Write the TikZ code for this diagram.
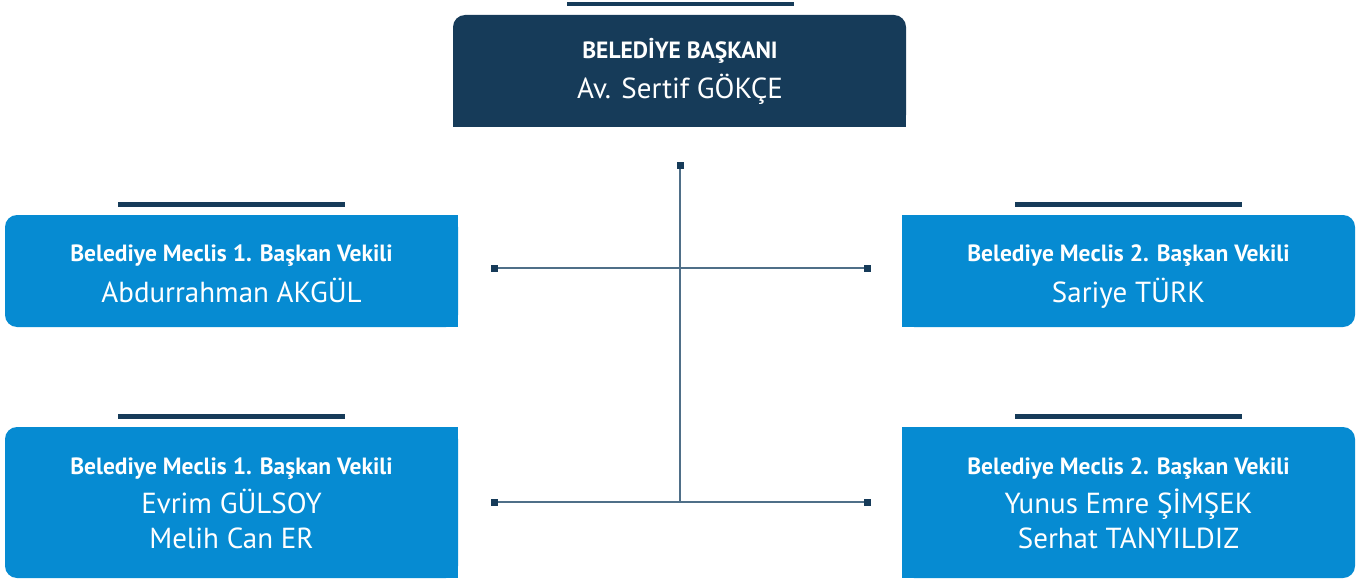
\documentclass[tikz,border=0pt]{standalone}
\usepackage{fontspec}
\setmainfont{PT Sans}
\definecolor{navy}{HTML}{163B59}
\definecolor{azure}{HTML}{068BD2}
\definecolor{linec}{HTML}{4F6F88}
\begin{document}
\begin{tikzpicture}[x=1pt,y=-1pt,
  titletext/.style={font=\fontsize{23.5}{26}\selectfont\bfseries, text=white, anchor=base, inner sep=0},
  nametext/.style={font=\fontsize{29}{32}\selectfont, text=white, anchor=base, inner sep=0},
  bar/.style={fill=navy},
  conn/.style={draw=linec, line width=2pt},
  endsq/.style={fill=navy, inner sep=0, minimum size=7pt, rectangle}]
\useasboundingbox (0,0) rectangle (1371,583);
% top box
\fill[bar] (567,2) rectangle (794,6);
\fill[navy, rounded corners=12pt] (453,15) rectangle (906,127);
\fill[navy] (453,60) rectangle (906,127);
\node[titletext] (tt) at (680,59) {BELEDİYE BAŞKANI};
\node[nametext] (tn) at (680,99) {Av. Sertif GÖKÇE};
% left 1
\fill[bar] (118,202) rectangle (345,207);
\fill[azure, rounded corners=12pt] (5,215) rectangle (458,327);
\fill[azure] (200,215) rectangle (458,327);
\node[titletext] (l1t) at (231.5,261) {Belediye Meclis 1. Başkan Vekili};
\node[nametext] (l1n) at (231.5,302) {Abdurrahman AKGÜL};
% right 1
\fill[bar] (1015,202) rectangle (1242,207);
\fill[azure, rounded corners=12pt] (902,215) rectangle (1355,327);
\fill[azure] (902,215) rectangle (1100,327);
\node[titletext] (r1t) at (1128.5,261) {Belediye Meclis 2. Başkan Vekili};
\node[nametext] (r1n) at (1128.5,302) {Sariye TÜRK};
% left 2
\fill[bar] (118,414) rectangle (345,419);
\fill[azure, rounded corners=12pt] (5,427) rectangle (458,578);
\fill[azure] (200,427) rectangle (458,578);
\node[titletext] (l2t) at (231.5,474) {Belediye Meclis 1. Başkan Vekili};
\node[nametext] (l2n) at (231.5,513) {Evrim GÜLSOY};
\node[nametext] (l2m) at (231.5,548) {Melih Can ER};
% right 2
\fill[bar] (1015,414) rectangle (1242,419);
\fill[azure, rounded corners=12pt] (902,427) rectangle (1355,578);
\fill[azure] (902,427) rectangle (1100,578);
\node[titletext] (r2t) at (1128.5,474) {Belediye Meclis 2. Başkan Vekili};
\node[nametext] (r2n) at (1128.5,513) {Yunus Emre ŞİMŞEK};
\node[nametext] (r2m) at (1128.5,548) {Serhat TANYILDIZ};
% connectors
\coordinate (ctop) at (680,166);
\coordinate (cmid) at (680,268);
\coordinate (cbot) at (680,502);
\coordinate (a1) at (494,268);
\coordinate (b1) at (867,268);
\coordinate (a2) at (494,502);
\coordinate (b2) at (867,502);
\draw[conn] (ctop) -- (cbot);
\draw[conn] (a1) -- (b1);
\draw[conn] (a2) -- (b2);
\foreach \p in {ctop,a1,b1,a2,b2} \node[endsq] at (\p) {};
\end{tikzpicture}
\end{document}
